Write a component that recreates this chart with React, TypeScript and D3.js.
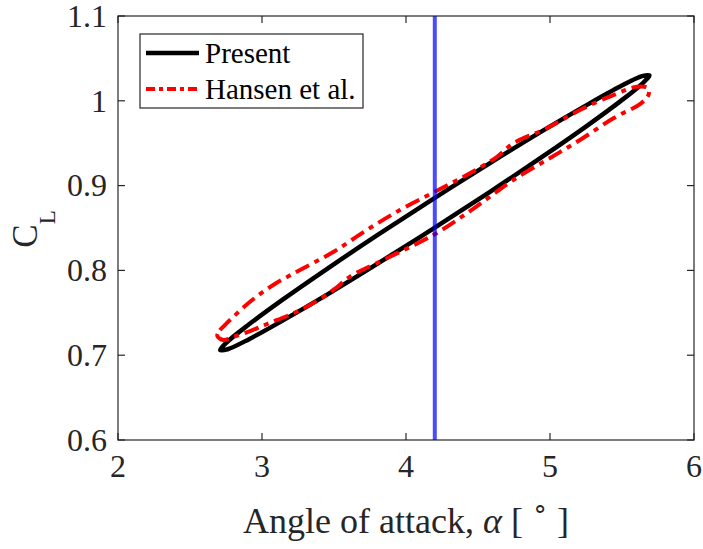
import React from "react";
import * as d3 from "d3";

const W = 703;
const H = 549;

// Present (black solid loop): angle of attack [deg], C_L
const presentAlpha = [
  4.2, 4.586, 4.945, 5.254, 5.49, 5.639, 5.69, 5.639, 5.49, 5.254, 4.945, 4.586,
  4.2, 3.814, 3.455, 3.146, 2.91, 2.761, 2.71, 2.761, 2.91, 3.146, 3.455, 3.814,
];
const presentCL = [
  0.8855, 0.9268, 0.9642, 0.9949, 1.0171, 1.029, 1.03, 1.02, 0.9996, 0.9702, 0.9338, 0.893,
  0.8505, 0.8092, 0.7718, 0.7411, 0.7189, 0.707, 0.706, 0.716, 0.7364, 0.7658, 0.8022, 0.843,
];

// Hansen et al. (red dash-dot loop)
const hansenAlpha = [
  2.69, 2.708, 2.743, 2.778, 2.917, 3.078, 3.264, 3.495, 3.727, 3.958, 4.201, 4.422,
  4.63, 4.745, 4.977, 5.208, 5.44, 5.602, 5.683, 5.681, 5.625, 5.44, 5.208, 4.977,
  4.745, 4.583, 4.422, 4.19, 3.842, 3.611, 3.495, 3.333, 3.217, 3.035, 2.917, 2.799, 2.731,
];
const hansenCL = [
  0.7226, 0.7297, 0.7356, 0.7415, 0.7631, 0.7828, 0.8005, 0.8217, 0.8476, 0.8712, 0.8928, 0.9125,
  0.9337, 0.9499, 0.9676, 0.9892, 1.0068, 1.0166, 1.0147, 1.0057, 0.9962, 0.9794, 0.9538, 0.9302,
  0.9066, 0.8869, 0.8673, 0.8417, 0.8123, 0.7926, 0.7769, 0.7592, 0.7494, 0.7368, 0.7285, 0.7215, 0.7179,
];

const verticalLineAlpha = 4.2;
const xTicks = [2, 3, 4, 5, 6];
const yTicks = [0.6, 0.7, 0.8, 0.9, 1.0, 1.1];
const legendLabels = ["Present", "Hansen et al."];

const FONT = "'Liberation Serif', 'Times New Roman', serif";
const AXIS = "#262626";

export default function App() {
  const left = 118, right = 694, top = 16, bottom = 440;
  const x = d3.scaleLinear().domain([2, 6]).range([left, right]);
  const y = d3.scaleLinear().domain([0.6, 1.1]).range([bottom, top]);

  const line = d3
    .line<[number, number]>()
    .x((d) => x(d[0]))
    .y((d) => y(d[1]))
    .curve(d3.curveCatmullRomClosed.alpha(0.5));

  const presentPts = presentAlpha.map((a, i) => [a, presentCL[i]] as [number, number]);
  const hansenPts = hansenAlpha.map((a, i) => [a, hansenCL[i]] as [number, number]);

  const tickLen = 7;
  const dash = "15 6 5 6";

  const lg = { x: 140, y: 34, w: 223, h: 74 };

  return (
    <svg
      width={W}
      height={H}
      style={{ position: "absolute", left: 0, top: 0, background: "#fff" }}
      fontFamily={FONT}
    >
      <rect x={0} y={0} width={W} height={H} fill="#fff" />
      {/* data */}
      <path d={line(presentPts) || ""} fill="none" stroke="#000" strokeWidth={4.5} />
      <path
        d={line(hansenPts) || ""}
        fill="none"
        stroke="#ff0000"
        strokeWidth={4}
        strokeDasharray={dash}
      />
      <line
        x1={x(verticalLineAlpha)}
        x2={x(verticalLineAlpha)}
        y1={top}
        y2={bottom}
        stroke="rgb(0,0,255)"
        strokeOpacity={0.7}
        strokeWidth={4}
      />

      {/* axes box */}
      <rect x={left} y={top} width={right - left} height={bottom - top} fill="none" stroke={AXIS} strokeWidth={1.2} />
      {xTicks.map((t) => (
        <g key={"xt" + t}>
          <line x1={x(t)} x2={x(t)} y1={bottom} y2={bottom - tickLen} stroke={AXIS} strokeWidth={1.2} />
          <line x1={x(t)} x2={x(t)} y1={top} y2={top + tickLen} stroke={AXIS} strokeWidth={1.2} />
          <text x={x(t)} y={477} textAnchor="middle" fontSize={32} fill={AXIS}>
            {d3.format("~g")(t)}
          </text>
        </g>
      ))}
      {yTicks.map((t) => (
        <g key={"yt" + t}>
          <line x1={left} x2={left + tickLen} y1={y(t)} y2={y(t)} stroke={AXIS} strokeWidth={1.2} />
          <line x1={right} x2={right - tickLen} y1={y(t)} y2={y(t)} stroke={AXIS} strokeWidth={1.2} />
          <text x={107} y={y(t)} dy="0.34em" textAnchor="end" fontSize={32} fill={AXIS}>
            {d3.format("~g")(t)}
          </text>
        </g>
      ))}

      {/* axis titles */}
      <text x={(left + right) / 2} y={533} textAnchor="middle" fontSize={36} fill={AXIS}>
        <tspan>Angle of attack, </tspan>
        <tspan fontStyle="italic">α</tspan>
        <tspan> [ </tspan>
        <tspan dy={-16} fontSize={26}>∘</tspan>
        <tspan dy={16}> ]</tspan>
      </text>
      <text transform="translate(37,229) rotate(-90)" textAnchor="middle" fontSize={35} fill={AXIS}>
        <tspan>C</tspan>
        <tspan dy={18} fontSize={23}>L</tspan>
      </text>

      {/* legend */}
      <rect x={lg.x} y={lg.y} width={lg.w} height={lg.h} fill="#fff" stroke={AXIS} strokeWidth={1.2} />
      <line x1={146} x2={199} y1={53} y2={53} stroke="#000" strokeWidth={4.5} />
      <line x1={146} x2={199} y1={89} y2={89} stroke="#ff0000" strokeWidth={4} strokeDasharray="9 4 4 4" />
      <text x={205} y={53} dy="0.34em" fontSize={29} fill="#000">{legendLabels[0]}</text>
      <text x={205} y={89} dy="0.34em" fontSize={29} fill="#000">{legendLabels[1]}</text>
    </svg>
  );
}
